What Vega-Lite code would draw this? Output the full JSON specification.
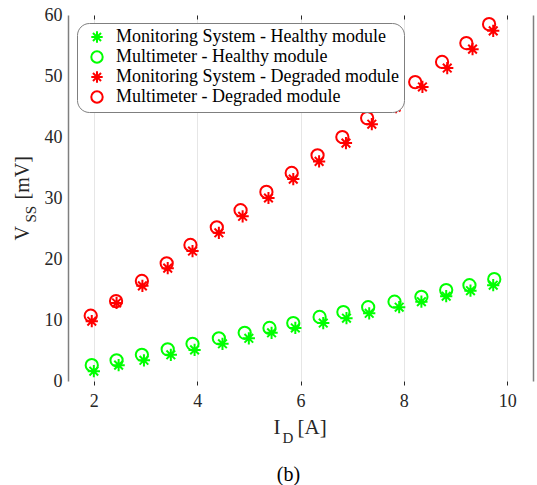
{
  "$schema": "https://vega.github.io/schema/vega-lite/v6.json",
  "width": 465,
  "height": 366,
  "autosize": "none",
  "padding": {"left": 68, "top": 15, "right": 4, "bottom": 104},
  "config": {"view": {"stroke": null}, "font": "Liberation Serif"},
  "title": {"text": "(b)", "orient": "bottom", "frame": "group", "anchor": "middle", "dx": -12, "offset": 20, "fontSize": 20, "fontWeight": "normal", "color": "#000000", "font": "Liberation Serif"},
  "data": {"values": [
    {"s": "Monitoring System - Healthy module", "x": 2.0, "y": 1.6},
    {"s": "Monitoring System - Healthy module", "x": 2.48, "y": 2.6},
    {"s": "Monitoring System - Healthy module", "x": 2.97, "y": 3.4},
    {"s": "Monitoring System - Healthy module", "x": 3.49, "y": 4.3},
    {"s": "Monitoring System - Healthy module", "x": 3.95, "y": 5.1},
    {"s": "Monitoring System - Healthy module", "x": 4.49, "y": 6.1},
    {"s": "Monitoring System - Healthy module", "x": 5.0, "y": 7.0},
    {"s": "Monitoring System - Healthy module", "x": 5.44, "y": 7.9},
    {"s": "Monitoring System - Healthy module", "x": 5.9, "y": 8.7},
    {"s": "Monitoring System - Healthy module", "x": 6.44, "y": 9.5},
    {"s": "Monitoring System - Healthy module", "x": 6.89, "y": 10.3},
    {"s": "Monitoring System - Healthy module", "x": 7.33, "y": 11.1},
    {"s": "Monitoring System - Healthy module", "x": 7.91, "y": 12.1},
    {"s": "Monitoring System - Healthy module", "x": 8.34, "y": 13.0},
    {"s": "Monitoring System - Healthy module", "x": 8.82, "y": 13.9},
    {"s": "Monitoring System - Healthy module", "x": 9.29, "y": 14.8},
    {"s": "Monitoring System - Healthy module", "x": 9.73, "y": 15.7},
    {"s": "Multimeter - Healthy module", "x": 1.96, "y": 2.6},
    {"s": "Multimeter - Healthy module", "x": 2.44, "y": 3.4},
    {"s": "Multimeter - Healthy module", "x": 2.93, "y": 4.3},
    {"s": "Multimeter - Healthy module", "x": 3.43, "y": 5.2},
    {"s": "Multimeter - Healthy module", "x": 3.91, "y": 6.1},
    {"s": "Multimeter - Healthy module", "x": 4.42, "y": 7.0},
    {"s": "Multimeter - Healthy module", "x": 4.92, "y": 7.9},
    {"s": "Multimeter - Healthy module", "x": 5.4, "y": 8.7},
    {"s": "Multimeter - Healthy module", "x": 5.86, "y": 9.5},
    {"s": "Multimeter - Healthy module", "x": 6.37, "y": 10.5},
    {"s": "Multimeter - Healthy module", "x": 6.83, "y": 11.3},
    {"s": "Multimeter - Healthy module", "x": 7.31, "y": 12.1},
    {"s": "Multimeter - Healthy module", "x": 7.82, "y": 13.0},
    {"s": "Multimeter - Healthy module", "x": 8.34, "y": 13.8},
    {"s": "Multimeter - Healthy module", "x": 8.82, "y": 14.9},
    {"s": "Multimeter - Healthy module", "x": 9.27, "y": 15.7},
    {"s": "Multimeter - Healthy module", "x": 9.75, "y": 16.7},
    {"s": "Monitoring System - Degraded module", "x": 1.96, "y": 9.8},
    {"s": "Monitoring System - Degraded module", "x": 2.44, "y": 12.8},
    {"s": "Monitoring System - Degraded module", "x": 2.94, "y": 15.6},
    {"s": "Monitoring System - Degraded module", "x": 3.43, "y": 18.5},
    {"s": "Monitoring System - Degraded module", "x": 3.91, "y": 21.3},
    {"s": "Monitoring System - Degraded module", "x": 4.42, "y": 24.3},
    {"s": "Monitoring System - Degraded module", "x": 4.88, "y": 27.0},
    {"s": "Monitoring System - Degraded module", "x": 5.38, "y": 30.0},
    {"s": "Monitoring System - Degraded module", "x": 5.86, "y": 33.1},
    {"s": "Monitoring System - Degraded module", "x": 6.36, "y": 36.0},
    {"s": "Monitoring System - Degraded module", "x": 6.88, "y": 39.0},
    {"s": "Monitoring System - Degraded module", "x": 7.38, "y": 42.1},
    {"s": "Monitoring System - Degraded module", "x": 7.85, "y": 44.9},
    {"s": "Monitoring System - Degraded module", "x": 8.36, "y": 48.2},
    {"s": "Monitoring System - Degraded module", "x": 8.84, "y": 51.3},
    {"s": "Monitoring System - Degraded module", "x": 9.33, "y": 54.4},
    {"s": "Monitoring System - Degraded module", "x": 9.73, "y": 57.4},
    {"s": "Multimeter - Degraded module", "x": 1.94, "y": 10.7},
    {"s": "Multimeter - Degraded module", "x": 2.43, "y": 13.1},
    {"s": "Multimeter - Degraded module", "x": 2.93, "y": 16.4},
    {"s": "Multimeter - Degraded module", "x": 3.41, "y": 19.3},
    {"s": "Multimeter - Degraded module", "x": 3.87, "y": 22.3},
    {"s": "Multimeter - Degraded module", "x": 4.38, "y": 25.2},
    {"s": "Multimeter - Degraded module", "x": 4.84, "y": 28.0},
    {"s": "Multimeter - Degraded module", "x": 5.34, "y": 31.0},
    {"s": "Multimeter - Degraded module", "x": 5.83, "y": 34.1},
    {"s": "Multimeter - Degraded module", "x": 6.33, "y": 37.0},
    {"s": "Multimeter - Degraded module", "x": 6.81, "y": 40.0},
    {"s": "Multimeter - Degraded module", "x": 7.29, "y": 43.1},
    {"s": "Multimeter - Degraded module", "x": 7.78, "y": 46.1},
    {"s": "Multimeter - Degraded module", "x": 8.22, "y": 49.0},
    {"s": "Multimeter - Degraded module", "x": 8.74, "y": 52.3},
    {"s": "Multimeter - Degraded module", "x": 9.21, "y": 55.4},
    {"s": "Multimeter - Degraded module", "x": 9.65, "y": 58.5}
  ]},
  "resolve": {"axis": {"x": "independent", "y": "independent"}},
  "layer": [
    {
      "mark": {"type": "point", "filled": false, "strokeWidth": 2, "size": 150, "opacity": 1},
      "encoding": {
        "x": {"field": "x", "type": "quantitative",
          "scale": {"domain": [1.5, 10.5], "nice": false, "zero": false},
          "axis": {"orient": "bottom", "values": [2, 4, 6, 8, 10], "grid": true, "gridColor": "#e6e6e6", "gridWidth": 1,
            "domain": false, "ticks": true, "tickSize": 4, "tickColor": "#262626",
            "labelFontSize": 18, "labelColor": "#262626", "labelPadding": 7, "labelFont": "Liberation Serif",
            "title": "I", "titleFont": "Liberation Serif", "titleFontSize": 21, "titleFontWeight": "normal", "titleColor": "#262626",
            "titleAlign": "left", "titleBaseline": "alphabetic", "titleX": 205, "titleY": 52}},
        "y": {"field": "y", "type": "quantitative",
          "scale": {"domain": [0, 60], "nice": false, "zero": false},
          "axis": {"orient": "left", "values": [0, 10, 20, 30, 40, 50, 60], "grid": false,
            "domain": true, "domainColor": "#7f7f7f", "domainWidth": 1.5, "ticks": false,
            "labelFontSize": 18, "labelColor": "#262626", "labelPadding": 6, "labelFont": "Liberation Serif",
            "title": "V", "titleFont": "Liberation Serif", "titleFontSize": 20, "titleFontWeight": "normal", "titleColor": "#262626",
            "titleAngle": -90, "titleAlign": "left", "titleBaseline": "alphabetic", "titleX": -40, "titleY": 225}},
        "color": {"field": "s", "type": "nominal",
          "scale": {"domain": ["Monitoring System - Healthy module", "Multimeter - Healthy module", "Monitoring System - Degraded module", "Multimeter - Degraded module"],
                    "range": ["#00ff00", "#00ff00", "#ff0000", "#ff0000"]},
          "legend": {"title": null, "orient": "none", "legendX": 9, "legendY": 8, "padding": 5,
            "strokeColor": "#7f7f7f", "fillColor": "#ffffff", "cornerRadius": 12,
            "labelFont": "Liberation Serif", "labelFontSize": 18, "labelColor": "#000000", "labelOffset": 10, "labelLimit": 0,
            "symbolSize": 130, "symbolStrokeWidth": 2, "rowPadding": 0, "symbolOffset": 6}},
        "shape": {"field": "s", "type": "nominal",
          "scale": {"domain": ["Monitoring System - Healthy module", "Multimeter - Healthy module", "Monitoring System - Degraded module", "Multimeter - Degraded module"],
                    "range": ["M-1,0L1,0M0,-1L0,1M-0.7071,-0.7071L0.7071,0.7071M-0.7071,0.7071L0.7071,-0.7071", "circle", "M-1,0L1,0M0,-1L0,1M-0.7071,-0.7071L0.7071,0.7071M-0.7071,0.7071L0.7071,-0.7071", "circle"]}}
      }
    },
    {
      "mark": {"type": "point", "opacity": 0},
      "encoding": {
        "x": {"field": "x", "type": "quantitative",
          "axis": {"orient": "bottom", "grid": false, "domain": false, "ticks": false, "labels": false,
            "title": "D", "titleFont": "Liberation Serif", "titleFontSize": 15, "titleFontWeight": "normal", "titleColor": "#262626",
            "titleAlign": "left", "titleBaseline": "alphabetic", "titleX": 214, "titleY": 61}},
        "y": {"field": "y", "type": "quantitative",
          "axis": {"orient": "left", "grid": false, "domain": false, "ticks": false, "labels": false,
            "title": "SS", "titleFont": "Liberation Serif", "titleFontSize": 15, "titleFontWeight": "normal", "titleColor": "#262626",
            "titleAngle": -90, "titleAlign": "left", "titleBaseline": "alphabetic", "titleX": -33, "titleY": 207}}
      }
    },
    {
      "mark": {"type": "point", "opacity": 0},
      "encoding": {
        "x": {"field": "x", "type": "quantitative",
          "axis": {"orient": "bottom", "grid": false, "domain": false, "ticks": false, "labels": false,
            "title": "[A]", "titleFont": "Liberation Serif", "titleFontSize": 21, "titleFontWeight": "normal", "titleColor": "#262626",
            "titleAlign": "left", "titleBaseline": "alphabetic", "titleX": 229, "titleY": 52}},
        "y": {"field": "y", "type": "quantitative",
          "axis": {"orient": "left", "grid": false, "domain": false, "ticks": false, "labels": false,
            "title": "[mV]", "titleFont": "Liberation Serif", "titleFontSize": 20, "titleFontWeight": "normal", "titleColor": "#262626",
            "titleAngle": -90, "titleAlign": "left", "titleBaseline": "alphabetic", "titleX": -40, "titleY": 184}}
      }
    },
    {
      "mark": {"type": "point", "opacity": 0},
      "encoding": {
        "x": {"field": "x", "type": "quantitative",
          "axis": {"orient": "top", "values": [2, 4, 6, 8, 10], "grid": false, "domain": false, "ticks": true, "tickSize": -4, "tickColor": "#262626", "labels": false, "title": null}},
        "y": {"field": "y", "type": "quantitative",
          "axis": {"orient": "right", "grid": false, "domain": true, "domainColor": "#7f7f7f", "domainWidth": 1.5, "ticks": false, "labels": false, "title": null}}
      }
    }
  ]
}
